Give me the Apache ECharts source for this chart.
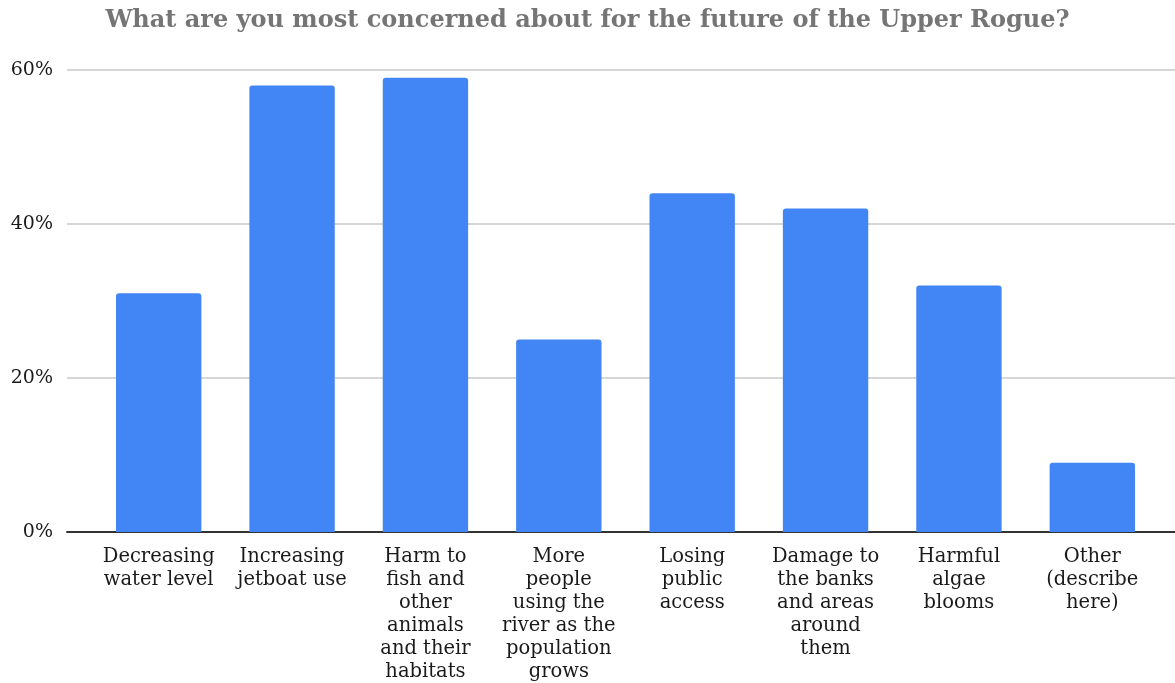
<!DOCTYPE html>
<html>
<head>
<meta charset="utf-8">
<script src="https://cdn.jsdelivr.net/npm/echarts@6/dist/echarts.min.js"></script>
<style>html,body{margin:0;padding:0;background:#fff;}#c{width:1175px;height:683px;}</style>
</head>
<body>
<div id="c"></div>
<script>
const title = "What are you most concerned about for the future of the Upper Rogue?";
const categories = [
  "Decreasing\nwater level",
  "Increasing\njetboat use",
  "Harm to\nfish and\nother\nanimals\nand their\nhabitats",
  "More\npeople\nusing the\nriver as the\npopulation\ngrows",
  "Losing\npublic\naccess",
  "Damage to\nthe banks\nand areas\naround\nthem",
  "Harmful\nalgae\nblooms",
  "Other\n(describe\nhere)"
];
const values = [31, 58, 59, 25, 44, 42, 32, 9];
const yTicks = [0, 20, 40, 60];

const FONT = "DejaVu Serif";
const chart = echarts.init(document.getElementById('c'), null, {renderer: 'canvas'});
chart.setOption({
  animation: false,
  backgroundColor: '#fff',
  title: {
    text: title, left: 'center', top: 4,
    textStyle: {fontFamily: FONT, fontWeight: 'bold', fontSize: 24, color: '#757575'}
  },
  grid: [
    {left: 67, right: 0, top: 70, bottom: 151},
    {left: 92, right: 16, top: 70, bottom: 151}
  ],
  xAxis: [
    {gridIndex: 0, type: 'value', min: 0, max: 1, show: true,
     axisLine: {show: true, lineStyle: {color: '#333', width: 2}},
     axisTick: {show: false}, axisLabel: {show: false}, splitLine: {show: false}},
    {gridIndex: 1, type: 'category', data: categories,
     axisLine: {show: false}, axisTick: {show: false},
     axisLabel: {interval: 0, margin: 13, fontFamily: FONT, fontSize: 19.5, lineHeight: 23, color: '#1a1a1a', align: 'center'}}
  ],
  yAxis: [
    {gridIndex: 0, type: 'value', min: yTicks[0], max: yTicks[yTicks.length-1], interval: 20,
     axisLine: {show: false}, axisTick: {show: false},
     axisLabel: {formatter: v => v + '%', fontFamily: FONT, fontSize: 19, color: '#1a1a1a', margin: 14},
     splitLine: {lineStyle: {color: '#d6d6d6', width: 2}}},
    {gridIndex: 1, type: 'value', min: yTicks[0], max: yTicks[yTicks.length-1], show: false}
  ],
  series: [{
    type: 'bar', xAxisIndex: 1, yAxisIndex: 1, data: values,
    barCategoryGap: '36%',
    itemStyle: {color: '#4285F4', borderRadius: [3, 3, 0, 0]},
    z: 1
  }]
});
</script>
</body>
</html>
